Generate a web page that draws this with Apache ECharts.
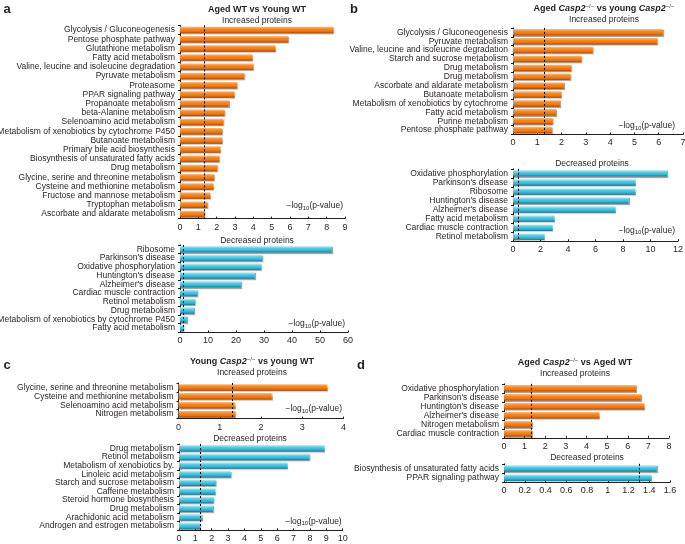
<!DOCTYPE html>
<html>
<head>
<meta charset="utf-8">
<script src="https://cdn.jsdelivr.net/npm/echarts@6/dist/echarts.min.js"></script>
<style>
  html, body { margin: 0; padding: 0; background: #fff; }
  #chart { width: 685px; height: 544px; }
</style>
</head>
<body>
<div id="chart"></div>
<script>
// a: Aged WT vs Young WT
var aUpCats = ['Glycolysis / Gluconeogenesis', 'Pentose phosphate pathway', 'Glutathione metabolism',
  'Fatty acid metabolism', 'Valine, leucine and isoleucine degradation', 'Pyruvate metabolism',
  'Proteasome', 'PPAR signaling pathway', 'Propanoate metabolism', 'beta-Alanine metabolism',
  'Selenoamino acid metabolism', 'Metabolism of xenobiotics by cytochrome P450', 'Butanoate metabolism',
  'Primary bile acid biosynthesis', 'Biosynthesis of unsaturated fatty acids', 'Drug metabolism',
  'Glycine, serine and threonine metabolism', 'Cysteine and methionine metabolism',
  'Fructose and mannose metabolism', 'Tryptophan metabolism', 'Ascorbate and aldarate metabolism'];
var aUpVals = [8.35, 5.9, 5.2, 3.95, 3.98, 3.5, 3.1, 2.97, 2.65, 2.42, 2.36, 2.29, 2.3, 2.2, 2.13, 2.02,
  1.85, 1.82, 1.64, 1.49, 1.33];
var aDownCats = ['Ribosome', "Parkinson's disease", 'Oxidative phosphorylation', "Huntington's disease",
  "Alzheimer's disease", 'Cardiac muscle contraction', 'Retinol metabolism', 'Drug metabolism',
  'Metabolism of xenobiotics by cytochrome P450', 'Fatty acid metabolism'];
var aDownVals = [54.2, 29.4, 28.9, 26.7, 21.7, 6.2, 5.3, 5.0, 2.4, 1.2];

// b: Aged Casp2-/- vs young Casp2-/-
var bUpCats = ['Glycolysis / Gluconeogenesis', 'Pyruvate metabolism', 'Valine, leucine and isoleucine degradation',
  'Starch and sucrose metabolism', 'Drug metabolism', 'Drug metabolism', 'Ascorbate and aldarate metabolism',
  'Butanoate metabolism', 'Metabolism of xenobiotics by cytochrome', 'Fatty acid metabolism',
  'Purine metabolism', 'Pentose phosphate pathway'];
var bUpVals = [6.16, 5.93, 3.28, 2.81, 2.39, 2.36, 2.09, 1.99, 1.93, 1.77, 1.63, 1.6];
var bDownCats = ['Oxidative phosphorylation', "Parkinson's disease", 'Ribosome', "Huntington's disease",
  "Alzheimer's disease", 'Fatty acid metabolism', 'Cardiac muscle contraction', 'Retinol metabolism'];
var bDownVals = [11.2, 8.9, 8.88, 8.4, 7.45, 3.0, 2.87, 2.27];

// c: Young Casp2-/- vs young WT
var cUpCats = ['Glycine, serine and threonine metabolism', 'Cysteine and methionine metabolism',
  'Selenoamino acid metabolism', 'Nitrogen metabolism'];
var cUpVals = [3.6, 2.26, 1.36, 1.37];
var cDownCats = ['Drug metabolism', 'Retinol metabolism', 'Metabolism of xenobiotics by.',
  'Linoleic acid metabolism', 'Starch and sucrose metabolism', 'Caffeine metabolism',
  'Steroid hormone biosynthesis', 'Drug metabolism', 'Arachidonic acid metabolism',
  'Androgen and estrogen metabolism'];
var cDownVals = [8.88, 7.96, 6.62, 3.16, 2.24, 2.2, 2.1, 2.06, 1.43, 1.29];

// d: Aged Casp2-/- vs Aged WT
var dUpCats = ['Oxidative phosphorylation', "Parkinson's disease", "Huntington's disease",
  "Alzheimer's disease", 'Nitrogen metabolism', 'Cardiac muscle contraction'];
var dUpVals = [6.4, 6.63, 6.8, 4.61, 1.34, 1.34];
var dDownCats = ['Biosynthesis of unsaturated fatty acids', 'PPAR signaling pathway'];
var dDownVals = [1.47, 1.42];

// significance cut-offs (dashed lines), as drawn
var cutoffs = [1.3, 1.3, 1.3, 0.35, 1.3, 1.3, 1.3, 1.3];
// axis max / interval
var axisMax = [9, 60, 7, 12, 4, 10, 8, 1.6];
var axisStep = [1, 10, 1, 2, 1, 1, 1, 0.2];

var FONT = "'Liberation Sans', Arial, sans-serif";
var INK = '#231f20';

var orange = new echarts.graphic.LinearGradient(0, 0, 0, 1, [
  { offset: 0, color: '#fbbf86' },
  { offset: 0.3, color: '#f58d2a' },
  { offset: 0.7, color: '#ec7410' },
  { offset: 1, color: '#a84a08' }
]);
var cyan = new echarts.graphic.LinearGradient(0, 0, 0, 1, [
  { offset: 0, color: '#c8f1f9' },
  { offset: 0.3, color: '#5ccfe6' },
  { offset: 0.7, color: '#33b2d0' },
  { offset: 1, color: '#1c7794' }
]);

var grids = [], xAxes = [], yAxes = [], series = [];

function addPanel(box, cats, vals, color, axisName) {
  var i = grids.length;
  grids.push({ left: box[0], top: box[1], width: box[2], height: box[3], containLabel: false, outerBoundsMode: 'none' });
  var xa = {
    gridIndex: i, type: 'value', min: 0, max: axisMax[i], interval: axisStep[i],
    splitLine: { show: false },
    axisLine: { show: true, lineStyle: { color: INK, width: 1 } },
    axisTick: { show: true, inside: true, length: 2, lineStyle: { color: INK } },
    axisLabel: { fontSize: 9, fontFamily: FONT, color: INK, margin: 4 }
  };
  if (axisName) {
    xa.name = '\u2212log{s|10}(p-value)';
    xa.nameLocation = 'end';
    xa.nameGap = axisName[0];
    xa.nameTextStyle = {
      fontSize: 8.5, fontFamily: FONT, color: INK, align: 'right', verticalAlign: 'bottom',
      padding: [0, 0, axisName[1], 0],
      rich: { s: { fontSize: 6, fontFamily: FONT, color: INK, padding: [5, 0, 0, 0] } }
    };
  }
  xAxes.push(xa);
  yAxes.push({
    gridIndex: i, type: 'category', data: cats, inverse: true,
    axisLine: { show: true, lineStyle: { color: INK, width: 1 } },
    axisTick: { show: true, length: 2, lineStyle: { color: INK } },
    axisLabel: { interval: 0, fontSize: 8.5, fontFamily: FONT, color: INK, margin: 5 }
  });
  series.push({
    type: 'bar', xAxisIndex: i, yAxisIndex: i, data: vals, barWidth: 6.5,
    itemStyle: { color: color, shadowColor: 'rgba(0,0,0,0.35)', shadowBlur: 1, shadowOffsetX: 1, shadowOffsetY: 1 },
    markLine: {
      silent: true, symbol: ['none', 'none'], label: { show: false },
      lineStyle: { type: [2, 2], color: '#000', width: 1 },
      data: [{ xAxis: cutoffs[i] }]
    }
  });
}

addPanel([180, 25.4, 165, 193.2], aUpCats, aUpVals, orange, [-2, 7]);
addPanel([180, 245, 168, 87.4], aDownCats, aDownVals, cyan, [-3, 3]);
addPanel([513, 27.9, 170, 106.6], bUpCats, bUpVals, orange, [-8, 3.5]);
addPanel([513, 168.8, 165, 72.4], bDownCats, bDownVals, cyan, [-3, 5.5]);
addPanel([178.5, 383, 165, 35.6], cUpCats, cUpVals, orange, [-1.5, 4]);
addPanel([179, 444, 163.7, 86.3], cDownCats, cDownVals, cyan, [-1, 3.5]);
addPanel([504, 383.8, 165, 54], dUpCats, dUpVals, orange, null);
addPanel([504, 463.8, 166, 18.5], dDownCats, dDownVals, cyan, null);

function txt(x, y, text, size, bold) {
  return {
    type: 'text', x: x, y: y,
    style: {
      text: text, fill: INK, fontSize: size, fontFamily: FONT, fontWeight: bold ? 'bold' : 'normal',
      align: 'center', verticalAlign: 'middle'
    }
  };
}
function richTitle(x, y, text) {
  return {
    type: 'text', x: x, y: y,
    style: {
      text: text, fill: INK, fontSize: 9, fontFamily: FONT, fontWeight: 'bold',
      align: 'center', verticalAlign: 'middle',
      rich: {
        b: { fontSize: 9, fontFamily: FONT, fontWeight: 'bold', fill: INK },
        i: { fontSize: 9, fontFamily: FONT, fontWeight: 'bold', fontStyle: 'italic', fill: INK },
        s: { fontSize: 6, fontFamily: FONT, fill: INK, padding: [0, 0, 5, 0] }
      }
    }
  };
}

var graphic = [
  txt(7, 9, 'a', 13, true),
  txt(257, 10, 'Aged WT vs Young WT', 9, true),
  txt(257, 21, 'Increased proteins', 8.5),
  txt(257, 240.5, 'Decreased proteins', 8.5),

  txt(354, 9, 'b', 13, true),
  richTitle(604, 9, '{b|Aged }{i|Casp2}{s|\u2212/\u2212}{b| vs young }{i|Casp2}{s|\u2212/\u2212}'),
  txt(604, 19.5, 'Increased proteins', 8.5),
  txt(592, 164, 'Decreased proteins', 8.5),

  txt(7, 365, 'c', 13, true),
  richTitle(252, 362, '{b|Young }{i|Casp2}{s|\u2212/\u2212}{b| vs young WT}'),
  txt(252, 373, 'Increased proteins', 8.5),
  txt(250, 439, 'Decreased proteins', 8.5),

  txt(361, 365, 'd', 13, true),
  richTitle(575, 363, '{b|Aged }{i|Casp2}{s|\u2212/\u2212}{b| vs Aged WT}'),
  txt(575, 373.5, 'Increased proteins', 8.5),
  txt(587, 457.5, 'Decreased proteins', 8.5)
];

var chart = echarts.init(document.getElementById('chart'), null, { renderer: 'canvas' });
chart.setOption({
  animation: false,
  backgroundColor: '#fff',
  grid: grids,
  xAxis: xAxes,
  yAxis: yAxes,
  series: series,
  graphic: graphic
});
</script>
</body>
</html>
